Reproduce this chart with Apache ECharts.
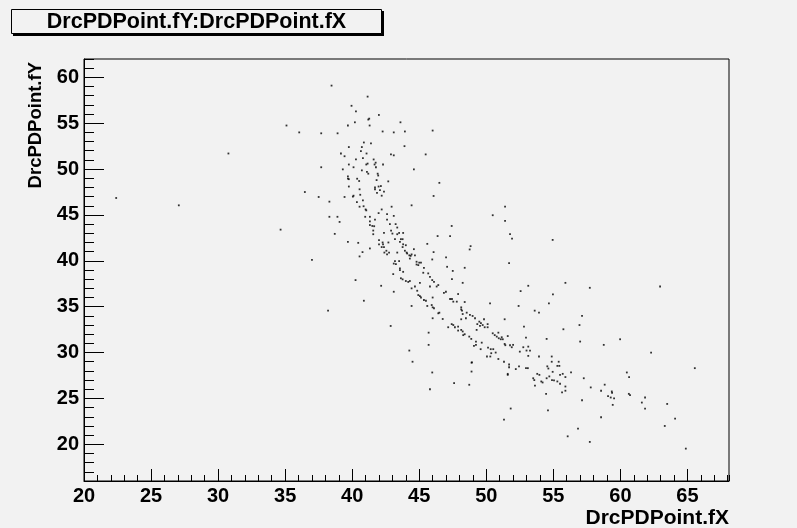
<!DOCTYPE html>
<html>
<head>
<meta charset="utf-8">
<script src="https://cdn.jsdelivr.net/npm/echarts@6/dist/echarts.min.js"></script>
<style>
html,body{margin:0;padding:0;background:#f2f2f2;}
#chart{width:797px;height:528px;}
</style>
</head>
<body>
<div id="chart"></div>
<script>
var titleText = 'DrcPDPoint.fY:DrcPDPoint.fX';
var xTitle = 'DrcPDPoint.fX';
var yTitle = 'DrcPDPoint.fY';

var xs = [
38.46,41.15,39.95,40.28,41.99,41.27,41.2,40.2,43.6,39.68,41.3,37.69,38.91,42.27,43.1,43.93,46.0,40.87,41.4,39.75,
40.72,43.9,40.65,39.16,41.07,39.43,42.89,43.1,45.48,40.8,40.28,41.6,41.15,41.05,41.75,41.67,42.3,39.75,40.1,41.77,
37.69,39.3,40.72,44.6,41.1,41.2,41.9,41.94,39.68,39.68,39.75,40.37,40.52,41.82,42.69,46.5,39.75,41.97,42.14,41.7,
41.7,40.55,42.07,42.37,41.85,40.1,40.05,40.6,42.2,46.07,39.43,40.8,40.35,38.3,42.94,44.43,40.55,40.85,41.0,41.05,
42.2,41.97,42.6,43.1,38.3,38.9,40.97,41.32,42.6,41.7,35.1,36.05,30.77,36.47,37.5,22.4,27.07,34.66,37.0,
39.06,38.7,39.68,40.45,40.55,40.77,50.48,47.42,48.83,48.76,47.3,46.37,45.6,46.07,47.0,45.97,
41.32,41.32,41.5,41.64,42.81,43.24,43.36,41.57,41.57,42.37,42.9,43.0,43.36,43.5,43.8,43.63,43.76,43.19,42.0,42.0,
42.27,42.3,42.7,43.56,43.76,43.8,44.0,41.32,42.2,42.37,42.4,42.55,42.6,42.75,43.36,43.93,44.06,44.1,44.26,44.36,
44.43,44.6,44.68,44.3,43.19,43.5,43.26,43.1,44.8,45.0,45.13,44.8,44.93,45.35,47.08,43.56,43.56,43.8,43.06,45.3,
45.67,45.8,47.5,43.63,43.76,44.0,44.18,44.3,45.97,46.1,47.44,40.25,42.16,44.43,44.68,44.85,45.05,45.8,46.3,46.42,
43.1,44.93,45.05,45.13,45.35,45.5,46.0,46.84,46.99,47.3,47.44,47.54,47.8,47.9,40.87,38.2,44.43,45.6,45.93,46.0,
46.1,46.42,46.5,46.0,46.75,47.16,47.42,47.54,47.66,47.9,47.9,42.87,45.7,45.7,44.26,
51.4,51.77,51.92,54.95,51.7,48.39,48.24,53.13,55.9,57.72,52.56,54.97,48.39,50.28,54.67,48.13,48.13,48.19,52.41,53.61,
53.93,48.24,48.54,48.78,48.98,49.16,48.48,48.13,49.83,57.14,51.37,49.48,49.6,49.73,49.53,49.33,50.1,50.1,49.88,49.28,
48.13,48.24,48.39,48.28,52.81,55.75,56.95,50.48,50.63,50.78,50.93,51.15,51.23,51.08,50.9,51.6,48.73,48.88,49.23,49.23,
49.08,49.66,51.37,51.42,51.77,52.0,51.9,52.96,54.5,57.0,50.13,50.33,50.52,49.58,50.37,50.7,52.76,53.13,53.0,53.26,
52.5,53.13,53.93,54.88,54.88,55.4,55.3,55.45,50.9,51.32,48.93,51.7,51.7,52.44,52.2,52.96,53.1,54.55,54.63,
58.76,59.98,62.29,54.95,55.5,55.7,56.32,54.1,54.2,54.5,54.7,54.9,55.05,55.3,55.5,55.9,55.9,55.9,55.65,54.46,
57.27,57.79,58.83,58.56,59.36,59.38,59.08,59.28,59.53,59.43,57.14,54.6,58.56,60.48,60.65,60.63,60.72,61.6,61.84,61.84,
63.49,64.08,63.31,65.55,64.88,56.84,56.07,57.72,
62.96,51.82,51.32,
51.4,44.5,45.97,45.8,47.6,48.73,48.9,48.9,53.63,53.8,53.96,53.5,53.58,51.6,51.6,50.05,50.3
];

var ys = [
59.1,57.9,56.9,56.3,55.9,55.5,55.4,55.1,55.1,54.75,54.75,53.9,53.9,54.1,54.0,54.1,54.2,52.9,52.8,52.4,
52.4,52.5,51.96,51.7,51.7,51.4,51.6,51.5,51.6,51.2,51.05,51.05,50.6,50.5,50.7,50.5,50.5,50.5,50.2,50.2,
50.2,49.97,49.86,49.97,49.7,49.5,49.5,49.3,49.2,48.95,48.9,48.95,48.7,48.8,48.66,48.5,48.1,48.1,48.15,48.0,
47.8,47.8,47.7,47.55,47.4,47.1,47.0,47.2,47.1,47.07,46.96,46.6,46.4,46.45,45.9,46.05,45.9,45.95,45.6,45.5,
45.6,45.2,45.1,44.9,44.8,44.8,44.8,44.8,44.5,44.5,54.75,54.0,51.7,47.5,46.96,46.85,46.05,43.4,40.1,
44.24,42.94,42.07,41.96,40.48,40.95,44.97,43.8,41.6,41.24,42.7,42.7,41.85,40.95,40.37,40.15,
44.3,43.9,43.8,43.77,44.0,44.0,43.63,43.3,42.9,43.04,43.3,42.97,42.9,43.04,43.04,42.36,42.36,42.36,42.25,41.8,
42.0,41.8,42.0,42.07,41.5,41.8,41.7,41.35,41.5,41.5,40.9,41.1,40.7,40.9,40.9,41.1,40.9,40.8,40.6,40.54,
40.7,41.27,40.6,40.25,39.97,39.97,39.64,39.7,39.9,39.8,39.8,39.6,39.53,39.24,39.35,39.17,38.99,38.8,38.55,38.7,
38.63,38.26,38.9,38.1,37.98,37.8,37.7,37.8,37.9,37.7,38.0,37.9,37.28,37.0,37.2,36.74,37.6,37.2,37.2,37.36,
36.63,36.27,36.16,36.0,35.73,35.65,36.0,36.5,36.63,35.84,35.84,35.55,35.55,36.38,35.65,34.57,35.08,35.08,35.18,34.93,
34.83,34.28,34.35,33.74,33.66,32.76,33.1,33.0,32.76,32.83,32.4,32.9,32.17,30.84,30.22,
44.35,42.9,42.43,42.28,39.75,39.24,37.6,37.28,37.6,37.06,36.7,36.35,35.51,35.37,35.37,34.93,34.7,34.57,35.08,34.57,
34.35,34.2,34.35,34.1,33.99,33.74,33.74,33.63,33.63,33.99,33.63,33.37,33.2,33.0,32.9,33.1,33.1,32.76,32.76,32.47,
32.47,32.3,32.0,31.9,32.83,32.54,33.0,32.1,31.9,31.74,31.56,31.67,31.45,31.45,32.17,31.8,31.74,31.49,31.2,30.84,
30.73,31.08,30.94,30.8,30.8,30.84,30.58,31.63,31.49,31.2,30.54,30.37,30.37,30.37,29.93,30.0,30.58,30.65,30.22,30.22,
30.1,29.64,29.57,29.57,29.0,29.0,28.55,28.55,29.3,29.0,28.93,28.7,28.4,28.5,28.2,28.3,28.3,28.5,28.26,
30.84,31.45,30.0,27.9,27.57,27.68,27.83,26.85,26.74,27.2,27.4,27.0,26.96,26.85,26.6,27.33,26.3,25.84,25.65,25.5,
27.2,26.2,26.5,25.84,25.76,25.6,25.26,25.1,25.0,24.3,24.8,23.7,22.95,27.83,27.33,25.5,25.37,24.55,25.1,23.9,
24.4,22.8,22.0,28.3,19.53,21.7,20.87,20.26,
37.2,23.9,22.7,
45.9,29.0,27.83,26.0,26.67,26.49,28.9,27.93,26.4,27.68,27.57,27.2,27.0,27.68,27.57,29.57,29.57
];

var pts = xs.map(function(x, i){ return [x, ys[i]]; });

var FONT = '"Liberation Sans", Arial, Helvetica, sans-serif';
var BG = '#f2f2f2';

var chart = echarts.init(document.getElementById('chart'), null, {renderer:'canvas'});
chart.setOption({
  backgroundColor: BG,
  animation: false,
  grid: {left:84, top:59, width:645, height:422, show:true, borderColor:'#000', borderWidth:1, backgroundColor:BG},
  xAxis: [
    {type:'value', min:20, max:68.1, interval:5, position:'bottom',
     axisLine:{show:true, onZero:false, lineStyle:{color:'#000', width:1}},
     axisTick:{show:true, inside:true, length:12, lineStyle:{color:'#000', width:1}},
     axisLabel:{show:true, margin:5, color:'#000', fontFamily:FONT, fontWeight:'bold', fontSize:20, showMaxLabel:false},
     splitLine:{show:false}},
    {type:'value', min:20, max:68.1, interval:1, position:'bottom',
     axisLine:{show:false, onZero:false},
     axisTick:{show:true, inside:true, length:6, lineStyle:{color:'#000', width:1}},
     axisLabel:{show:false}, splitLine:{show:false}}
  ],
  yAxis: [
    {type:'value', min:16, max:62, splitNumber:9, position:'left',
     axisLine:{show:true, onZero:false, lineStyle:{color:'#000', width:1}},
     axisTick:{show:true, inside:true, length:20, lineStyle:{color:'#000', width:1}},
     axisLabel:{show:true, margin:5, color:'#000', fontFamily:FONT, fontWeight:'bold', fontSize:20, showMinLabel:false, showMaxLabel:false},
     splitLine:{show:false}},
    {type:'value', min:16, max:62, interval:1, position:'left',
     axisLine:{show:false, onZero:false},
     axisTick:{show:true, inside:true, length:10, lineStyle:{color:'#000', width:1}},
     axisLabel:{show:false}, splitLine:{show:false}}
  ],
  series: [{
    type:'scatter', xAxisIndex:0, yAxisIndex:0, data:pts,
    symbol:'rect', symbolSize:1.8, itemStyle:{color:'#000'}, silent:true
  }],
  graphic: [
    {type:'rect', shape:{x:13, y:11, width:371, height:25}, style:{fill:'#000'}, z:10},
    {type:'rect', shape:{x:11.5, y:9.5, width:370, height:24}, style:{fill:BG, stroke:'#000', lineWidth:1}, z:11},
    {type:'text', x:196.5, y:22, z:12, style:{text:titleText, fill:'#000', font:'bold 21.5px ' + FONT, align:'center', verticalAlign:'middle'}},
    {type:'text', x:729, y:518, z:12, style:{text:xTitle, fill:'#000', font:'bold 21px ' + FONT, align:'right', verticalAlign:'middle'}},
    {type:'text', x:36, y:62, rotation:Math.PI/2, z:12, style:{text:yTitle, fill:'#000', font:'bold 18.5px ' + FONT, align:'right', verticalAlign:'middle'}}
  ]
});
</script>
</body>
</html>
